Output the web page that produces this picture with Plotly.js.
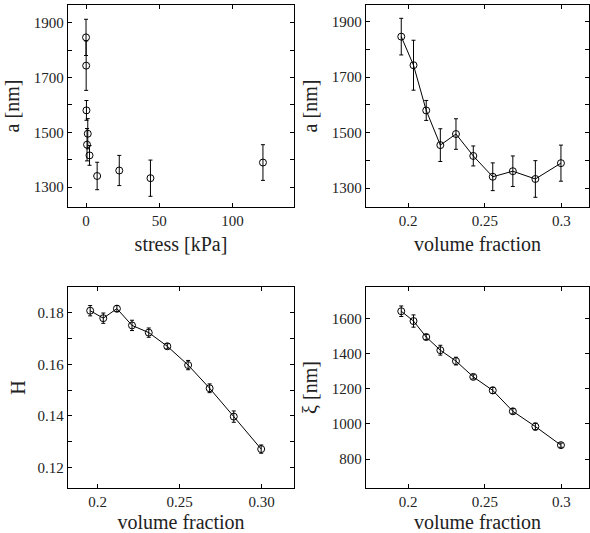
<!DOCTYPE html>
<html><head><meta charset="utf-8">
<script src="https://cdn.plot.ly/plotly-3.0.1.min.js"></script>
<style>body{margin:0;background:#fff} #chart{width:590px;height:533px}</style>
</head><body><div id="chart"></div>
<script>
// Data
const stress = [0, 0.1, 0.3, 0.7, 1.2, 2.4, 7.6, 22.7, 44.0, 120.8];
const volFrac = [0.1955, 0.2035, 0.2118, 0.2210, 0.2312, 0.2425, 0.2552, 0.2683, 0.2830, 0.2997];
const aNm = [1846, 1743, 1580, 1455, 1495, 1416, 1341, 1361, 1333, 1390];
const aErr = [66, 90, 36, 59, 55, 36, 50, 55, 66, 65];
const H = [0.1808, 0.1779, 0.1816, 0.1751, 0.1723, 0.1670, 0.1597, 0.1507, 0.1397, 0.1271];
const HErr = [0.0020, 0.0020, 0.0012, 0.0020, 0.0018, 0.0010, 0.0018, 0.0017, 0.0022, 0.0016];
const xi = [1642, 1586, 1495, 1420, 1358, 1268, 1191, 1072, 985, 879];
const xiErr = [30, 35, 15, 28, 22, 12, 18, 15, 20, 12];

const aTickVals = [1300, 1400, 1500, 1600, 1700, 1800, 1900];
const aTickText = ['1300', '', '1500', '', '1700', '', '1900'];
const stressTickVals = [0, 50, 100];
const stressTickText = ['0', '50', '100'];
const vfTickVals = [0.2, 0.25, 0.3];
const vfTickText = ['0.2', '0.25', '0.3'];
const vfTickText3 = ['0.2', '0.25', '0.30'];
const hTickVals = [0.12, 0.13, 0.14, 0.15, 0.16, 0.17, 0.18];
const hTickText = ['0.12', '', '0.14', '', '0.16', '', '0.18'];
const xiTickVals = [800, 1000, 1200, 1400, 1600];
const xiTickText = ['800', '1000', '1200', '1400', '1600'];

const FAM = 'Times New Roman';
const W = 590, H_PX = 533;
const dx = (a, b) => [a / W, b / W];
const dy = (top, bot) => [1 - bot / H_PX, 1 - top / H_PX];

function axis(range, domain, tv, tt, anchor, title, standoff) {
  return {
    range: range, domain: domain, anchor: anchor,
    tickmode: 'array', tickvals: tv, ticktext: tt,
    showline: true, mirror: 'ticks', linecolor: 'black', linewidth: 1.3,
    ticks: 'inside', ticklen: 4, tickcolor: 'black', tickwidth: 1,
    showgrid: false, zeroline: false,
    tickfont: {family: FAM, size: 15, color: '#222'},
    title: {text: title, font: {family: FAM, size: 20, color: '#222'}, standoff: standoff}
  };
}

function tr(x, y, err, xa, ya, mode) {
  return {
    x: x, y: y, xaxis: xa, yaxis: ya, type: 'scatter', mode: mode,
    line: {color: 'black', width: 1},
    marker: {symbol: 'circle-open', size: 7, color: 'black', line: {width: 1, color: 'black'}},
    error_y: {type: 'data', array: err, visible: true, color: 'black', thickness: 1, width: 2},
    showlegend: false, cliponaxis: false
  };
}

const data = [
  tr(stress, aNm, aErr, 'x', 'y', 'markers'),
  tr(volFrac, aNm, aErr, 'x2', 'y2', 'lines+markers'),
  tr(volFrac, H, HErr, 'x3', 'y3', 'lines+markers'),
  tr(volFrac, xi, xiErr, 'x4', 'y4', 'lines+markers')
];

const layout = {
  width: W, height: H_PX,
  margin: {l: 0, r: 0, t: 0, b: 0},
  paper_bgcolor: 'white', plot_bgcolor: 'white',
  font: {family: FAM, color: '#222'},
  xaxis: axis([-12.3, 142], dx(68, 294), stressTickVals, stressTickText, 'y', 'stress [kPa]', 8),
  yaxis: axis([1228, 1964], dy(5, 207), aTickVals, aTickText, 'x', 'a [nm]', 8),
  xaxis2: axis([0.1725, 0.318], dx(366, 589), vfTickVals, vfTickText, 'y2', 'volume fraction', 8),
  yaxis2: axis([1232, 1960], dy(5, 207), aTickVals, aTickText, 'x2', 'a [nm]', 8),
  xaxis3: axis([0.182, 0.3197], dx(68, 294), vfTickVals, vfTickText3, 'y3', 'volume fraction', 6),
  yaxis3: axis([0.112, 0.190], dy(287, 488), hTickVals, hTickText, 'x3', 'H', 6),
  xaxis4: axis([0.1725, 0.318], dx(366, 589), vfTickVals, vfTickText, 'y4', 'volume fraction', 6),
  yaxis4: axis([635, 1780], dy(287, 488), xiTickVals, xiTickText, 'x4', 'ξ [nm]', 8)
};

Plotly.newPlot('chart', data, layout, {staticPlot: true, displayModeBar: false});
</script></body></html>
